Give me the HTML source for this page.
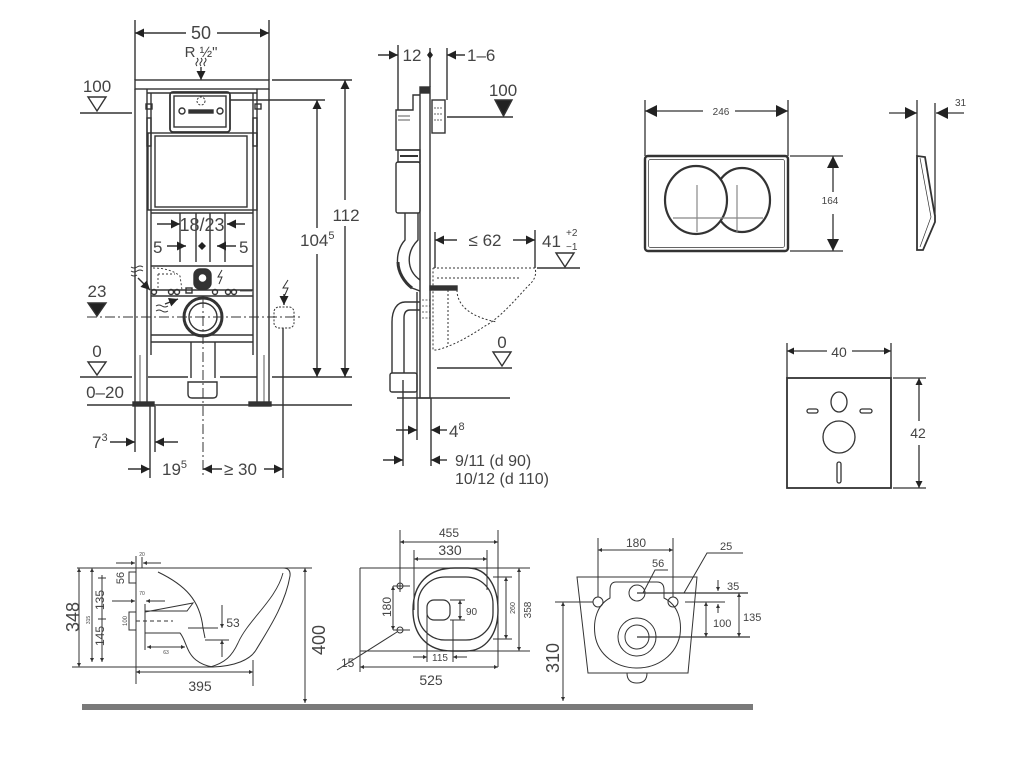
<!DOCTYPE html>
<html><head><meta charset="utf-8">
<style>
html,body{margin:0;padding:0;background:#fff}
svg{display:block}
text{font-family:"Liberation Sans",sans-serif;fill:#444;stroke:none}
</style></head>
<body>
<svg width="1024" height="758" viewBox="0 0 1024 758" xmlns="http://www.w3.org/2000/svg">
<defs>
<marker id="A" viewBox="0 0 10 10" refX="10" refY="5" markerWidth="12" markerHeight="9" markerUnits="userSpaceOnUse" orient="auto-start-reverse"><path d="M0,0L10,5L0,10z" fill="#222"/></marker>
<marker id="P" viewBox="0 0 10 10" refX="10" refY="5" markerWidth="15" markerHeight="12" markerUnits="userSpaceOnUse" orient="auto-start-reverse"><path d="M0,0L10,5L0,10z" fill="#222"/></marker>
<marker id="M" viewBox="0 0 10 10" refX="10" refY="5" markerWidth="10" markerHeight="7" markerUnits="userSpaceOnUse" orient="auto-start-reverse"><path d="M0,0L10,5L0,10z" fill="#222"/></marker>
<marker id="S" viewBox="0 0 10 10" refX="10" refY="5" markerWidth="5" markerHeight="4" markerUnits="userSpaceOnUse" orient="auto-start-reverse"><path d="M0,0L10,5L0,10z" fill="#333"/></marker>
</defs>

<!-- ================= FRONT VIEW (frame) ================= -->
<g stroke="#333" fill="none" stroke-width="1.4">
  <line x1="135" y1="20" x2="135" y2="80"/>
  <line x1="269" y1="20" x2="269" y2="80"/>
  <line x1="135" y1="33" x2="186" y2="33" marker-start="url(#A)"/>
  <line x1="217" y1="33" x2="269" y2="33" marker-end="url(#A)"/>
  <path d="M197,58 q2,2 0,4 q-2,2 0,4 M201,58 q2,2 0,4 q-2,2 0,4 M205,58 q2,2 0,4 q-2,2 0,4" stroke-width="1"/>
  <line x1="201" y1="67" x2="201" y2="80" marker-end="url(#A)"/>

  <rect x="135" y="80" width="134" height="9"/>
  <line x1="147" y1="93" x2="257" y2="93"/>
  <line x1="135" y1="89" x2="135" y2="404"/>
  <line x1="147" y1="89" x2="147" y2="404"/>
  <line x1="151" y1="93" x2="151" y2="355"/>
  <line x1="269" y1="89" x2="269" y2="404"/>
  <line x1="257" y1="89" x2="257" y2="404"/>
  <line x1="253" y1="93" x2="253" y2="355"/>
  <line x1="140" y1="355" x2="140" y2="404" stroke-width="0.8"/>
  <line x1="264" y1="355" x2="264" y2="404" stroke-width="0.8"/>
  <rect x="133" y="402" width="21" height="4" fill="#333"/>
  <rect x="249" y="402" width="22" height="4" fill="#333"/>
  <rect x="146" y="104" width="6" height="5"/>
  <rect x="255" y="104" width="6" height="5"/>
  <rect x="147" y="118" width="4" height="28"/>
  <rect x="253" y="118" width="4" height="28"/>

  <rect x="170" y="92" width="60" height="40" rx="3" stroke-width="1.8"/>
  <rect x="174" y="96" width="52" height="31"/>
  <rect x="189" y="110" width="24" height="3" fill="#333"/>
  <circle cx="182" cy="111" r="3"/>
  <circle cx="220" cy="111" r="3"/>
  <circle cx="201" cy="101" r="4" stroke-dasharray="2,1.5" stroke-width="1"/>

  <rect x="148" y="133" width="109" height="77"/>
  <rect x="155" y="136" width="92" height="71"/>

  <line x1="151" y1="213" x2="253" y2="213"/>
  <line x1="180" y1="213" x2="180" y2="262"/>
  <line x1="196" y1="213" x2="196" y2="262"/>
  <line x1="210" y1="213" x2="210" y2="262"/>
  <line x1="225" y1="213" x2="225" y2="262"/>
  <line x1="157" y1="224" x2="180" y2="224" marker-end="url(#A)"/>
  <line x1="245" y1="224" x2="227" y2="224" marker-end="url(#A)"/>
  <line x1="167" y1="246" x2="186" y2="246" marker-end="url(#A)"/>
  <line x1="236" y1="246" x2="217" y2="246" marker-end="url(#A)"/>
  <path d="M202,242 l4,4 l-4,4 l-4,-4z" fill="#222" stroke="none"/>

  <line x1="151" y1="266" x2="253" y2="266"/>
  <path d="M153,268 Q170,268 180,276 L182,290 M158,274 V290 M158,274 H175" stroke-dasharray="2,2" stroke-width="0.9"/>
  <line x1="151" y1="290" x2="253" y2="290"/>
  <line x1="151" y1="296" x2="253" y2="296"/>
  <circle cx="154" cy="292" r="2.5"/>
  <circle cx="171" cy="292" r="2.5"/>
  <circle cx="177" cy="292" r="2.5"/>
  <rect x="186" y="288" width="6" height="5"/>
  <circle cx="215" cy="292" r="2.5"/>
  <circle cx="228" cy="292" r="2.5"/>
  <circle cx="234" cy="292" r="2.5"/>
  <line x1="240" y1="291" x2="252" y2="291" stroke-width="0.8"/>
  <rect x="194" y="269" width="17" height="20" rx="6" fill="#333"/>
  <circle cx="202.5" cy="278" r="4.5" fill="#fff"/>
  <path d="M222,270 l-4,7 h4 l-3,7" stroke-width="1"/>
  <path d="M131,267 q3,2 6,0 q3,-2 6,0 M131,271 q3,2 6,0 q3,-2 6,0 M131,275 q3,2 6,0" stroke-width="0.9"/>
  <line x1="138" y1="278" x2="150" y2="290" marker-end="url(#A)"/>
  <path d="M156,311 q3,-2 6,0 q3,2 6,0 M156,306 q3,-2 6,0 q3,2 6,0" stroke-width="0.9"/>
  <line x1="165" y1="304" x2="178" y2="299" marker-end="url(#A)"/>

  <circle cx="203" cy="317" r="19" stroke-width="3"/>
  <circle cx="203" cy="317" r="14"/>
  <line x1="151" y1="335" x2="253" y2="335"/>
  <line x1="151" y1="342" x2="253" y2="342"/>
  <line x1="191" y1="342" x2="191" y2="378"/>
  <line x1="215" y1="342" x2="215" y2="378"/>
  <path d="M188,382 H217 V394 Q217,398 213,398 H192 Q188,398 188,394 Z"/>

  <line x1="87" y1="317" x2="300" y2="317" stroke-dasharray="10,3,2,3" stroke-width="1"/>
  <line x1="203" y1="298" x2="203" y2="478" stroke-dasharray="10,3,2,3" stroke-width="1"/>

  <path d="M288,280 l-5,8 h5 l-4,9" stroke-width="1"/>
  <line x1="284" y1="294" x2="284" y2="305" marker-end="url(#A)"/>
  <rect x="274" y="307" width="20" height="21" rx="5" stroke-dasharray="2,1.5" stroke-width="1"/>
  <line x1="283" y1="328" x2="283" y2="478"/>

  <path d="M88,97 H106 L97,111 Z"/>
  <line x1="80" y1="113" x2="132" y2="113"/>
  <path d="M88,303 H106 L97,316 Z" fill="#222"/>
  <path d="M88,362 H106 L97,375 Z"/>
  <path d="M80,377 H132 M148,377 H188 M220,377 H257 M272,377 H352"/>
  <line x1="87" y1="405" x2="352" y2="405"/>

  <line x1="272" y1="80" x2="352" y2="80"/>
  <line x1="230" y1="100" x2="325" y2="100"/>
  <line x1="345" y1="80" x2="345" y2="200" marker-start="url(#A)"/>
  <line x1="345" y1="226" x2="345" y2="377" marker-end="url(#A)"/>
  <line x1="317" y1="100" x2="317" y2="228" marker-start="url(#A)"/>
  <line x1="317" y1="254" x2="317" y2="377" marker-end="url(#A)"/>

  <line x1="135" y1="406" x2="135" y2="452"/>
  <line x1="150" y1="406" x2="150" y2="478"/>
  <line x1="155" y1="406" x2="155" y2="452"/>
  <line x1="110" y1="442" x2="135" y2="442" marker-end="url(#A)"/>
  <line x1="178" y1="442" x2="155" y2="442" marker-end="url(#A)"/>
  <line x1="128" y1="469" x2="150" y2="469" marker-end="url(#A)"/>
  <line x1="222" y1="469" x2="203" y2="469" marker-end="url(#A)"/>
  <line x1="264" y1="469" x2="283" y2="469" marker-end="url(#A)"/>
</g>
<g font-size="17">
  <text x="201" y="39" text-anchor="middle" font-size="18">50</text>
  <text x="201" y="57" text-anchor="middle" font-size="15">R ½"</text>
  <text x="97" y="92" text-anchor="middle">100</text>
  <text x="346" y="221" text-anchor="middle">112</text>
  <text x="300" y="246">104<tspan font-size="11" dy="-7">5</tspan></text>
  <text x="202" y="231" text-anchor="middle" font-size="18">18/23</text>
  <text x="153" y="253">5</text>
  <text x="239" y="253">5</text>
  <text x="97" y="297" text-anchor="middle">23</text>
  <text x="97" y="357" text-anchor="middle">0</text>
  <text x="105" y="398" text-anchor="middle">0–20</text>
  <text x="92" y="448">7<tspan font-size="11" dy="-7">3</tspan></text>
  <text x="162" y="475">19<tspan font-size="11" dy="-7">5</tspan></text>
  <text x="224" y="475">≥ 30</text>
</g>

<!-- ================= SIDE VIEW ================= -->
<g stroke="#333" fill="none" stroke-width="1.4">
  <line x1="398" y1="45" x2="398" y2="110"/>
  <line x1="430" y1="48" x2="430" y2="87"/>
  <line x1="447" y1="48" x2="447" y2="100"/>
  <line x1="378" y1="55" x2="398" y2="55" marker-end="url(#A)"/>
  <line x1="465" y1="55" x2="447" y2="55" marker-end="url(#A)"/>
  <path d="M430,51 l3,4 l-3,4 l-3,-4z" fill="#222" stroke="none"/>

  <rect x="420" y="87" width="10" height="311"/>
  <rect x="421" y="88" width="8" height="5" fill="#333"/>
  <path d="M420,95 H413 V110 H396 V150 H420"/>
  <line x1="398" y1="116" x2="410" y2="116" stroke-width="0.8"/>
  <line x1="398" y1="120" x2="410" y2="120" stroke-width="0.8"/>
  <rect x="398" y="150" width="22" height="12"/>
  <line x1="400" y1="156" x2="418" y2="156" stroke-width="2"/>
  <rect x="396" y="162" width="24" height="51" rx="2"/>
  <rect x="432" y="100" width="13" height="33"/>
  <path d="M434,108 h8 M434,114 h8 M434,120 h8" stroke-dasharray="2,1" stroke-width="0.8"/>
  <path d="M405,213 V240 C394,252 394,275 412,288 L420,291 M418,213 V240 C406,252 406,270 420,280"/>
  <path d="M398,262 C398,272 404,282 412,288" stroke-width="3"/>
  <rect x="430" y="286" width="27" height="4" fill="#333"/>
  <path d="M420,302 H405 C397,302 392,310 392,322 V373 M420,310 H410 Q404,310 404,318 V373"/>
  <rect x="390" y="373" width="27" height="19" rx="2"/>
  <line x1="417" y1="292" x2="417" y2="398"/>
  <path d="M422,300 h8 M422,306 h8 M422,312 h8 M422,318 h8" stroke-dasharray="2,1.5" stroke-width="0.8"/>
  <line x1="397" y1="398" x2="510" y2="398"/>
  <path d="M433,268 H535 C537,275 534,281 528,286 C515,300 500,318 485,326 C470,336 455,345 437,350 H433 V268 M437,278 H520 M457,290 C457,308 475,318 497,322 M448,290 V345" stroke-dasharray="2,2" stroke-width="1"/>

  <line x1="447" y1="117" x2="513" y2="117"/>
  <path d="M495,100 H512 L503.5,116 Z" fill="#222"/>
  <line x1="435" y1="232" x2="435" y2="268"/>
  <line x1="535" y1="230" x2="535" y2="268"/>
  <line x1="457" y1="240" x2="435" y2="240" marker-end="url(#A)"/>
  <line x1="513" y1="240" x2="535" y2="240" marker-end="url(#A)"/>
  <path d="M556,253 H574 L565,267 Z"/>
  <line x1="537" y1="268" x2="580" y2="268"/>
  <path d="M493,352 H511 L502,366 Z"/>
  <line x1="437" y1="368" x2="512" y2="368"/>

  <line x1="403" y1="380" x2="403" y2="466"/>
  <line x1="417" y1="398" x2="417" y2="440"/>
  <line x1="431" y1="398" x2="431" y2="466"/>
  <line x1="396" y1="430" x2="417" y2="430" marker-end="url(#A)"/>
  <line x1="447" y1="430" x2="431" y2="430" marker-end="url(#A)"/>
  <line x1="383" y1="460" x2="403" y2="460" marker-end="url(#A)"/>
  <line x1="447" y1="460" x2="431" y2="460" marker-end="url(#A)"/>
</g>
<g font-size="17">
  <text x="412" y="61" text-anchor="middle">12</text>
  <text x="467" y="61">1–6</text>
  <text x="503" y="96" text-anchor="middle">100</text>
  <text x="485" y="246" text-anchor="middle">≤ 62</text>
  <text x="542" y="247">41</text>
  <text x="566" y="236" font-size="10">+2</text>
  <text x="566" y="250" font-size="10">−1</text>
  <text x="502" y="348" text-anchor="middle">0</text>
  <text x="449" y="437">4<tspan font-size="11" dy="-7">8</tspan></text>
  <text x="455" y="466" font-size="16">9/11   (d 90)</text>
  <text x="455" y="484" font-size="16">10/12 (d 110)</text>
</g>

<!-- ================= FLUSH PLATE ================= -->
<g stroke="#333" fill="none" stroke-width="1.3">
  <rect x="645" y="156" width="143" height="95" rx="3" stroke-width="2.4"/>
  <rect x="648.5" y="159.5" width="136" height="88" rx="2" stroke-width="0.7"/>
  <ellipse cx="742" cy="200" rx="28" ry="32" stroke-width="2.2"/>
  <ellipse cx="696" cy="200" rx="31" ry="34" fill="#fff" stroke-width="2.2"/>
  <path d="M697,185 V232 M737,185 V232 M673,218 H763" stroke="#888" stroke-width="1.2"/>
  <line x1="645" y1="100" x2="645" y2="156"/>
  <line x1="788" y1="100" x2="788" y2="156"/>
  <line x1="645" y1="111" x2="703" y2="111" marker-start="url(#P)"/>
  <line x1="735" y1="111" x2="788" y2="111" marker-end="url(#P)"/>
  <line x1="790" y1="156" x2="843" y2="156"/>
  <line x1="790" y1="251" x2="843" y2="251"/>
  <line x1="833" y1="156" x2="833" y2="192" marker-start="url(#P)"/>
  <line x1="833" y1="214" x2="833" y2="251" marker-end="url(#P)"/>
  <path d="M917,156 L925,157 C928,175 932,200 935,216 L935,222 L923,250 L917,250 Z" stroke-width="1.8"/>
  <path d="M920,158 C924,180 928,200 931,217 L920,247" stroke-width="0.7"/>
  <line x1="917" y1="100" x2="917" y2="156"/>
  <line x1="935" y1="103" x2="935" y2="216"/>
  <line x1="889" y1="113" x2="917" y2="113" marker-end="url(#P)"/>
  <line x1="964" y1="113" x2="936" y2="113" marker-end="url(#P)"/>
</g>
<g font-size="10">
  <text x="721" y="115" text-anchor="middle">246</text>
  <text x="830" y="204" text-anchor="middle">164</text>
  <text x="955" y="106">31</text>
</g>

<!-- ================= SOUND PANEL ================= -->
<g stroke="#333" fill="none" stroke-width="1.3">
  <rect x="787" y="378" width="104" height="110" stroke-width="1.8"/>
  <line x1="787" y1="343" x2="787" y2="378"/>
  <line x1="891" y1="343" x2="891" y2="378"/>
  <line x1="787" y1="351" x2="827" y2="351" marker-start="url(#M)"/>
  <line x1="852" y1="351" x2="891" y2="351" marker-end="url(#M)"/>
  <line x1="893" y1="378" x2="926" y2="378"/>
  <line x1="893" y1="488" x2="926" y2="488"/>
  <line x1="919" y1="378" x2="919" y2="421" marker-start="url(#M)"/>
  <line x1="919" y1="445" x2="919" y2="488" marker-end="url(#M)"/>
  <ellipse cx="839" cy="402" rx="8" ry="10"/>
  <rect x="807" y="409" width="11" height="4" rx="2"/>
  <rect x="860" y="409" width="12" height="4" rx="2"/>
  <circle cx="839" cy="437" r="16"/>
  <rect x="837" y="462" width="4" height="21" rx="2"/>
</g>
<g font-size="14">
  <text x="839" y="357" text-anchor="middle">40</text>
  <text x="918" y="438" text-anchor="middle">42</text>
</g>

<!-- ================= BOTTOM: SIDE PROFILE ================= -->
<g stroke="#333" fill="none" stroke-width="1">
  <line x1="77" y1="568" x2="310" y2="568"/>
  <line x1="72" y1="667" x2="213" y2="667"/>
  <line x1="136" y1="556" x2="136" y2="684"/>
  <line x1="79" y1="568" x2="79" y2="667" marker-start="url(#S)" marker-end="url(#S)"/>
  <line x1="92" y1="568" x2="92" y2="662" marker-start="url(#S)" marker-end="url(#S)"/>
  <line x1="102" y1="575" x2="102" y2="662" marker-end="url(#S)"/>
  <path d="M98,578 H106 M98,619 H106"/>
  <path d="M136,572 H129 V583 H136 M136,612 H129 V630 H136"/>
  <line x1="136" y1="621" x2="173" y2="621" stroke-dasharray="4,3"/>
  <line x1="142" y1="557" x2="142" y2="568"/>
  <line x1="116" y1="563" x2="135" y2="563" marker-end="url(#S)"/>
  <line x1="161" y1="563" x2="143" y2="563" marker-end="url(#S)"/>
  <line x1="112" y1="601" x2="135" y2="601" marker-end="url(#S)"/>
  <line x1="165" y1="601" x2="146" y2="601" marker-end="url(#S)"/>
  <line x1="145" y1="604" x2="145" y2="650"/>
  <path d="M145,612 L193,603 L187,611 L145,611"/>
  <path d="M145,633 H180 C186,640 186,652 196,660 C201,664 206,666 213,667"/>
  <path d="M158,572 C185,585 200,600 203,628 L205,638"/>
  <path d="M283,568 Q291,568 290,576 C285,605 268,630 256,650 C250,660 235,666 213,667"/>
  <path d="M283,573 C276,600 248,620 238,643 C232,656 225,663 210,667" stroke-width="0.9"/>
  <line x1="253" y1="660" x2="253" y2="686"/>
  <line x1="188" y1="628" x2="218" y2="628"/>
  <line x1="205" y1="640" x2="229" y2="640"/>
  <line x1="222" y1="605" x2="222" y2="628" marker-end="url(#S)"/>
  <line x1="222" y1="657" x2="222" y2="640" marker-end="url(#S)"/>
  <line x1="147" y1="647" x2="185" y2="647" marker-start="url(#S)" marker-end="url(#S)"/>
  <line x1="136" y1="672" x2="253" y2="672" marker-start="url(#S)" marker-end="url(#S)"/>
  <line x1="290" y1="568" x2="312" y2="568"/>
  <line x1="305" y1="568" x2="305" y2="703" marker-start="url(#S)" marker-end="url(#S)"/>
</g>
<g>
  <text transform="translate(79,617) rotate(-90)" text-anchor="middle" font-size="18">348</text>
  <text transform="translate(90,620) rotate(-90)" text-anchor="middle" font-size="5">315</text>
  <text transform="translate(104,600) rotate(-90)" text-anchor="middle" font-size="12">135</text>
  <text transform="translate(104,636) rotate(-90)" text-anchor="middle" font-size="12">145</text>
  <text transform="translate(124,578) rotate(-90)" text-anchor="middle" font-size="11">56</text>
  <text transform="translate(127,621) rotate(-90)" text-anchor="middle" font-size="6">100</text>
  <text x="142" y="556" text-anchor="middle" font-size="5">20</text>
  <text x="142" y="595" text-anchor="middle" font-size="5">70</text>
  <text x="166" y="654" text-anchor="middle" font-size="5">63</text>
  <text x="233" y="627" font-size="12" text-anchor="middle">53</text>
  <text x="200" y="691" text-anchor="middle" font-size="14">395</text>
  <text transform="translate(325,640) rotate(-90)" text-anchor="middle" font-size="18">400</text>
</g>

<!-- ================= BOTTOM: TOP VIEW ================= -->
<g stroke="#333" fill="none" stroke-width="1">
  <line x1="360" y1="568" x2="530" y2="568"/>
  <line x1="360" y1="651" x2="530" y2="651"/>
  <line x1="360" y1="568" x2="360" y2="672"/>
  <path d="M413,610 C413,584 428,568 455,568 L468,568 C488,568 498,588 498,610 C498,634 486,651 466,651 L452,651 C428,651 413,636 413,610 Z" stroke-width="1.4"/>
  <rect x="418" y="577" width="75" height="63" rx="27" stroke-width="1.3"/>
  <rect x="427" y="600" width="23" height="20" rx="7" stroke-width="1.2"/>
  <line x1="450" y1="600" x2="465" y2="600"/>
  <line x1="450" y1="620" x2="465" y2="620"/>
  <line x1="460" y1="600" x2="460" y2="620" marker-start="url(#S)" marker-end="url(#S)"/>
  <line x1="493" y1="577" x2="512" y2="577"/>
  <line x1="493" y1="639" x2="512" y2="639"/>
  <line x1="506" y1="577" x2="506" y2="639" marker-start="url(#S)" marker-end="url(#S)"/>
  <line x1="519" y1="568" x2="519" y2="651" marker-start="url(#S)" marker-end="url(#S)"/>
  <line x1="400" y1="530" x2="400" y2="592"/>
  <line x1="498" y1="530" x2="498" y2="667"/>
  <line x1="400" y1="542" x2="498" y2="542" marker-start="url(#S)" marker-end="url(#S)"/>
  <line x1="414" y1="550" x2="414" y2="610"/>
  <line x1="487" y1="550" x2="487" y2="590"/>
  <line x1="414" y1="559" x2="487" y2="559" marker-start="url(#S)" marker-end="url(#S)"/>
  <circle cx="400" cy="586" r="3"/>
  <circle cx="400" cy="630" r="3"/>
  <path d="M393,586 H410 M393,630 H410"/>
  <line x1="393" y1="586" x2="393" y2="630" marker-start="url(#S)" marker-end="url(#S)"/>
  <line x1="337" y1="670" x2="397" y2="632"/>
  <line x1="427" y1="610" x2="427" y2="662"/>
  <line x1="453" y1="620" x2="453" y2="662"/>
  <line x1="413" y1="657" x2="427" y2="657" marker-end="url(#S)"/>
  <line x1="467" y1="657" x2="453" y2="657" marker-end="url(#S)"/>
  <line x1="360" y1="667" x2="498" y2="667" marker-start="url(#S)" marker-end="url(#S)"/>
</g>
<g>
  <text x="449" y="537" text-anchor="middle" font-size="12">455</text>
  <text x="450" y="555" text-anchor="middle" font-size="14">330</text>
  <text x="466" y="615" font-size="10">90</text>
  <text transform="translate(515,608) rotate(-90)" text-anchor="middle" font-size="7">260</text>
  <text transform="translate(531,610) rotate(-90)" text-anchor="middle" font-size="10">358</text>
  <text transform="translate(391,607) rotate(-90)" text-anchor="middle" font-size="12">180</text>
  <text x="341" y="667" font-size="12">15</text>
  <text x="440" y="661" text-anchor="middle" font-size="10">115</text>
  <text x="431" y="685" text-anchor="middle" font-size="14">525</text>
</g>

<!-- ================= BOTTOM: FRONT VIEW ================= -->
<g stroke="#333" fill="none" stroke-width="1">
  <path d="M577,577 L697,577 L688,673 L588,673 Z"/>
  <path d="M616,582 H657 Q664,582 664,590 V598 C678,605 682,620 680,635 C676,655 658,668 637,668 C616,668 598,655 595,635 C593,620 597,605 610,598 V590 Q610,582 616,582 Z"/>
  <path d="M627,673 Q627,683 637,683 Q647,683 647,673"/>
  <circle cx="598" cy="602" r="5"/>
  <circle cx="673" cy="602" r="5"/>
  <circle cx="637" cy="593" r="8"/>
  <circle cx="637" cy="637" r="19"/>
  <circle cx="637" cy="637" r="12"/>
  <line x1="598" y1="538" x2="598" y2="597"/>
  <line x1="673" y1="538" x2="673" y2="597"/>
  <line x1="598" y1="550" x2="673" y2="550" marker-start="url(#S)" marker-end="url(#S)"/>
  <path d="M643,593 L655,570 L668,570"/>
  <path d="M684,593 L707,553 H743"/>
  <line x1="637" y1="593" x2="748" y2="593" stroke-width="1.2"/>
  <line x1="685" y1="602" x2="725" y2="602"/>
  <line x1="555" y1="602" x2="593" y2="602"/>
  <line x1="637" y1="637" x2="750" y2="637" stroke-width="1.2"/>
  <line x1="718" y1="580" x2="718" y2="591" marker-end="url(#S)"/>
  <line x1="718" y1="613" x2="718" y2="604" marker-end="url(#S)"/>
  <line x1="706" y1="602" x2="706" y2="637" marker-start="url(#S)" marker-end="url(#S)"/>
  <line x1="739" y1="593" x2="739" y2="637" marker-start="url(#S)" marker-end="url(#S)"/>
  <line x1="563" y1="602" x2="563" y2="701" marker-start="url(#S)" marker-end="url(#S)"/>
</g>
<g font-size="11">
  <text x="636" y="547" text-anchor="middle" font-size="12">180</text>
  <text x="652" y="567">56</text>
  <text x="720" y="550">25</text>
  <text x="727" y="590">35</text>
  <text x="713" y="627">100</text>
  <text x="743" y="621">135</text>
  <text transform="translate(559,658) rotate(-90)" text-anchor="middle" font-size="18">310</text>
</g>

<rect x="82" y="704" width="671" height="6" fill="#7a7a7a"/>
</svg>
</body></html>
